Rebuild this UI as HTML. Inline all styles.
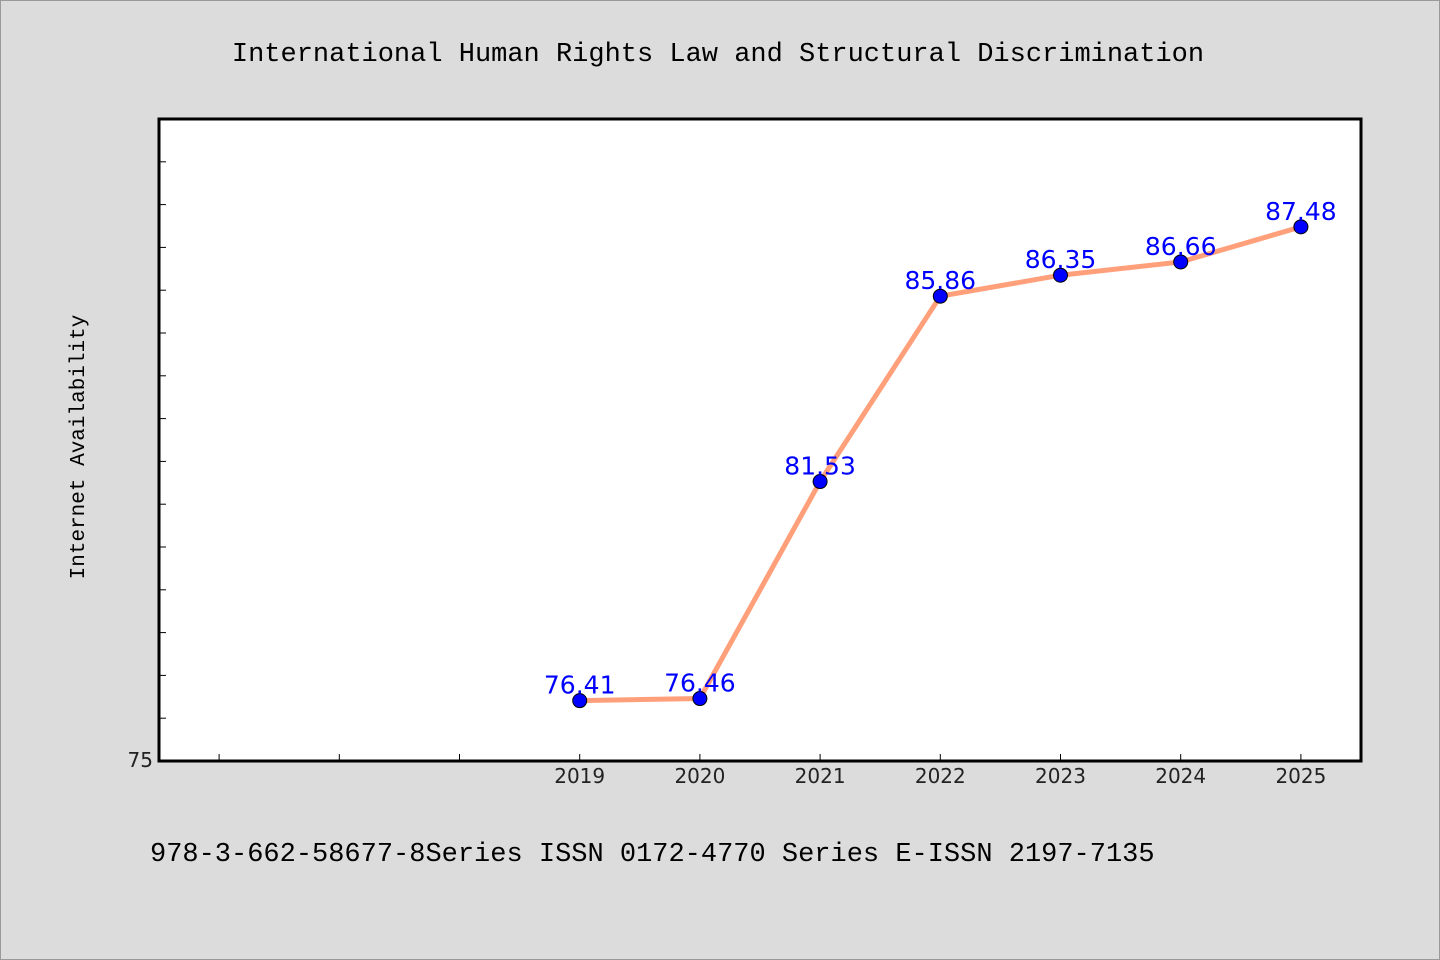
<!DOCTYPE html>
<html><head><meta charset="utf-8"><style>
body{margin:0;background:#dcdcdc;}
svg{display:block}
.mono{font-family:"Liberation Mono","DejaVu Sans Mono",monospace;fill:#000}
.tick{font-family:"DejaVu Sans","Liberation Sans",sans-serif;font-size:20px;fill:#222}
.val{font-family:"DejaVu Sans","Liberation Sans",sans-serif;font-size:25px;fill:#0000ff}
</style></head><body>
<svg id="chart" width="1440" height="960" xmlns="http://www.w3.org/2000/svg">
<rect x="0.5" y="0.5" width="1439" height="959" fill="#dcdcdc" stroke="#999"/>
<text class="mono" x="718" y="61" font-size="27" text-anchor="middle">International Human Rights Law and Structural Discrimination</text>
<rect x="159" y="119" width="1202" height="642" fill="#fff" stroke="#000" stroke-width="3"/>
<text class="mono" font-size="21" transform="translate(84,447) rotate(-90)" text-anchor="middle">Internet Availability</text>
<text class="mono" x="150" y="861" font-size="27">978-3-662-58677-8Series ISSN 0172-4770 Series E-ISSN 2197-7135</text>
<g id="ticks"></g><g id="marks"></g>
</svg>
<script>
const years=[2019,2020,2021,2022,2023,2024,2025];
const values=[76.41,76.46,81.53,85.86,86.35,86.66,87.48];
const labels=["76.41","76.46","81.53","85.86","86.35","86.66","87.48"];
const yMin=75,yMax=90,xMin=2015.5,xMax=2025.5;
const L=159,R=1361,T=119,B=761;
const sx=v=>L+(v-xMin)/(xMax-xMin)*(R-L);
const sy=v=>B-(v-yMin)/(yMax-yMin)*(B-T);
const NS="http://www.w3.org/2000/svg";
const tg=document.getElementById('ticks'),mg=document.getElementById('marks');
function mk(tag,attrs,parent){const e=document.createElementNS(NS,tag);for(const k in attrs)e.setAttribute(k,attrs[k]);parent.appendChild(e);return e;}
for(let v=yMin+1;v<yMax;v++){
 const t=mk('line',{x1:L,x2:L+7,y1:sy(v),y2:sy(v),stroke:'#000','stroke-width':1},tg);
 
 
}
const yl=mk('text',{x:L-6,y:B+6,'text-anchor':'end',class:'tick','font-size':17},tg);


yl.textContent=yMin;
for(let x=2016;x<=2025;x++){
 const t=mk('line',{x1:sx(x),x2:sx(x),y1:B,y2:B-7,stroke:'#000','stroke-width':1},tg);
 
 
}
years.forEach(y=>{
 const t=mk('text',{x:sx(y),y:B+22,'text-anchor':'middle',class:'tick'},tg);
 
 
 t.textContent=y;
});
const line=mk('polyline',{points:years.map((y,i)=>sx(y)+','+sy(values[i])).join(' '),fill:'none',stroke:'#ffa07a','stroke-width':5},mg);


years.forEach((y,i)=>{
 const c=mk('circle',{cx:sx(y),cy:sy(values[i]),r:7,fill:'#0000ff',stroke:'#000','stroke-width':1},mg);
 
 
 const t=mk('text',{x:sx(y),y:sy(values[i])-7,'text-anchor':'middle',class:'val'},mg);
 
 
 t.textContent=labels[i];
});
</script>
</body></html>
